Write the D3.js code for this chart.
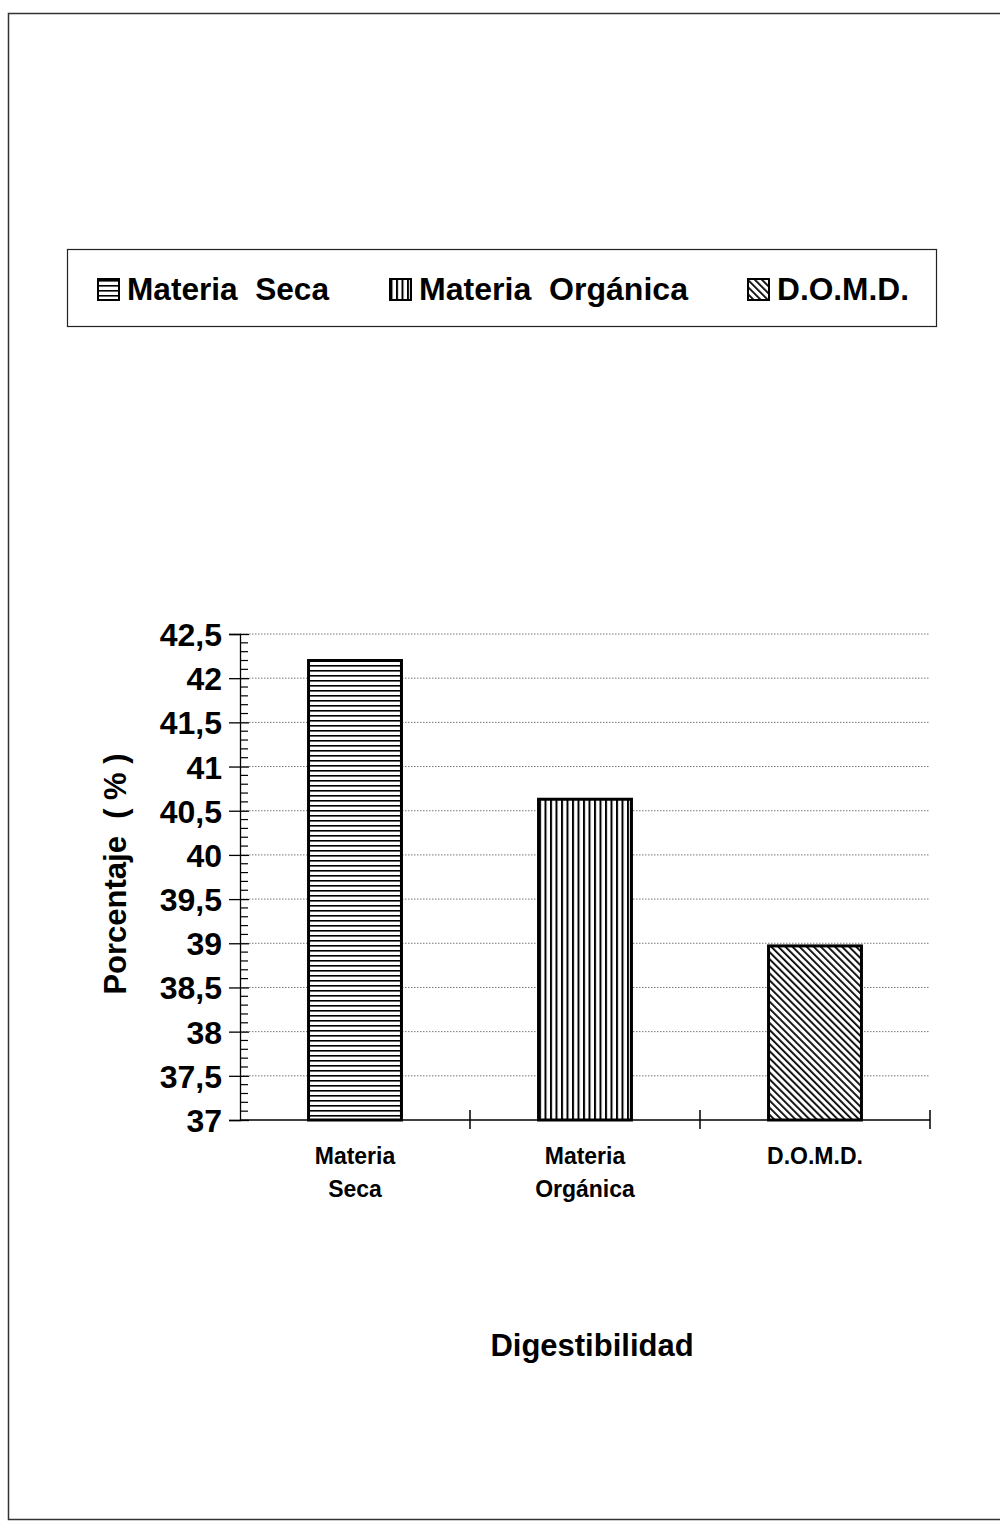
<!DOCTYPE html>
<html>
<head>
<meta charset="utf-8">
<script src="https://cdn.jsdelivr.net/npm/d3@7/dist/d3.min.js"></script>
<style>
  html, body { margin: 0; padding: 0; background: #fff; }
  svg { display: block; font-family: "Liberation Sans", Arial, sans-serif; }
</style>
</head>
<body>
<script>
const categories = ["Materia Seca", "Materia Orgánica", "D.O.M.D."];
const categoryLines = [["Materia", "Seca"], ["Materia", "Orgánica"], ["D.O.M.D."]];
const values = [42.2, 40.63, 38.97];
const legendLabels = ["Materia  Seca", "Materia  Orgánica", "D.O.M.D."];
const yTicks = [37, 37.5, 38, 38.5, 39, 39.5, 40, 40.5, 41, 41.5, 42, 42.5];
const yTickLabels = ["37", "37,5", "38", "38,5", "39", "39,5", "40", "40,5", "41", "41,5", "42", "42,5"];
const patterns = ["hlines", "vlines", "diag"];

const W = 1000, H = 1523;
const svg = d3.select("body").append("svg").attr("width", W).attr("height", H);

// patterns
const defs = svg.append("defs");
const ph = defs.append("pattern").attr("id", "hlines").attr("patternUnits", "userSpaceOnUse")
  .attr("width", 10).attr("height", 5);
ph.append("rect").attr("width", 10).attr("height", 5).attr("fill", "#fff");
ph.append("rect").attr("y", 0).attr("width", 10).attr("height", 1.6).attr("fill", "#000");
const pv = defs.append("pattern").attr("id", "vlines").attr("patternUnits", "userSpaceOnUse")
  .attr("width", 5.5).attr("height", 10);
pv.append("rect").attr("width", 5.5).attr("height", 10).attr("fill", "#fff");
pv.append("rect").attr("x", 0).attr("width", 2).attr("height", 10).attr("fill", "#000");
const pd = defs.append("pattern").attr("id", "diag").attr("patternUnits", "userSpaceOnUse")
  .attr("width", 5).attr("height", 5).attr("patternTransform", "rotate(-45)");
pd.append("rect").attr("width", 5).attr("height", 5).attr("fill", "#fff");
pd.append("rect").attr("x", 0).attr("width", 1.8).attr("height", 5).attr("fill", "#000");

// outer frame
svg.append("rect").attr("x", 8.5).attr("y", 13.5).attr("width", 1010).attr("height", 1506)
  .attr("fill", "none").attr("stroke", "#333").attr("stroke-width", 1.5);

// legend
svg.append("rect").attr("x", 67.5).attr("y", 249.5).attr("width", 869).attr("height", 77)
  .attr("fill", "#fff").attr("stroke", "#222").attr("stroke-width", 1.2);
const legX = [98, 390, 748];
legendLabels.forEach((t, i) => {
  svg.append("rect").attr("x", legX[i]).attr("y", 279).attr("width", 21).attr("height", 21)
    .attr("fill", `url(#${patterns[i]})`).attr("stroke", "#000").attr("stroke-width", 2);
  svg.append("text").attr("x", legX[i] + 29).attr("y", 300)
    .attr("font-size", 31).attr("font-weight", "bold").attr("fill", "#000")
    .attr("textLength", [202, 269, 132][i]).attr("lengthAdjust", "spacingAndGlyphs")
    .style("white-space", "pre").text(t);
});

// scales
const x = d3.scaleBand().domain(categories).range([240, 930]).paddingInner(0.596).paddingOuter(0.298);
const y = d3.scaleLinear().domain([37, 42.5]).range([1120, 634]);

// gridlines
svg.append("g").selectAll("line").data(yTicks.slice(1)).join("line")
  .attr("x1", 240).attr("x2", 930).attr("y1", d => y(d)).attr("y2", d => y(d))
  .attr("stroke", "#777").attr("stroke-width", 1).attr("stroke-dasharray", "1.5,1.5");

// bars
svg.append("g").selectAll("rect").data(values).join("rect")
  .attr("x", (d, i) => x(categories[i]))
  .attr("y", d => y(d))
  .attr("width", x.bandwidth())
  .attr("height", d => y(37) - y(d))
  .attr("fill", (d, i) => `url(#${patterns[i]})`)
  .attr("stroke", "#000").attr("stroke-width", 3);

// y axis
const yAxis = d3.axisLeft(y).tickValues(yTicks).tickFormat((d, i) => yTickLabels[i]).tickSize(11).tickPadding(7);
const gy = svg.append("g").attr("transform", "translate(240,0)").call(yAxis);
gy.select(".domain").attr("stroke", "#000").attr("stroke-width", 1.3);
gy.selectAll(".tick line").attr("stroke", "#000").attr("stroke-width", 1.3).attr("x2", -11).attr("x1", 9);
gy.selectAll(".tick text").attr("font-size", 32).attr("font-weight", "bold").attr("fill", "#000")
  .attr("font-family", "Liberation Sans, Arial, sans-serif").attr("x", -18).attr("dy", "0.36em");
// minor ticks
const minor = d3.range(37, 42.5001, 0.1).filter(v => Math.abs(v * 2 - Math.round(v * 2)) > 0.01);
svg.append("g").selectAll("line").data(minor).join("line")
  .attr("x1", 240).attr("x2", 248).attr("y1", d => y(d)).attr("y2", d => y(d))
  .attr("stroke", "#000").attr("stroke-width", 1.2);

// x axis
svg.append("line").attr("x1", 240).attr("x2", 930).attr("y1", y(37)).attr("y2", y(37))
  .attr("stroke", "#000").attr("stroke-width", 1.5);
const step = x.step();
const bounds = categories.map(c => x(c) + x.bandwidth() + (step - x.bandwidth()) / 2);
svg.append("g").selectAll("line").data(bounds).join("line")
  .attr("x1", d => d).attr("x2", d => d).attr("y1", y(37) - 10).attr("y2", y(37) + 9)
  .attr("stroke", "#000").attr("stroke-width", 1.5);

// category labels
categories.forEach((c, i) => {
  const cx = x(c) + x.bandwidth() / 2;
  const t = svg.append("text").attr("x", cx).attr("y", 1164).attr("text-anchor", "middle")
    .attr("font-size", 23).attr("font-weight", "bold").attr("fill", "#000");
  categoryLines[i].forEach((l, j) => {
    t.append("tspan").attr("x", cx).attr("dy", j === 0 ? 0 : 33).text(l);
  });
});

// axis titles
svg.append("text").attr("transform", "translate(126,874) rotate(-90)").attr("text-anchor", "middle")
  .attr("font-size", 31).attr("font-weight", "bold").attr("fill", "#000")
  .style("white-space", "pre").text("Porcentaje  ( % )");
svg.append("text").attr("x", 592).attr("y", 1356).attr("text-anchor", "middle")
  .attr("font-size", 31).attr("font-weight", "bold").attr("fill", "#000").text("Digestibilidad");
</script>
</body>
</html>
